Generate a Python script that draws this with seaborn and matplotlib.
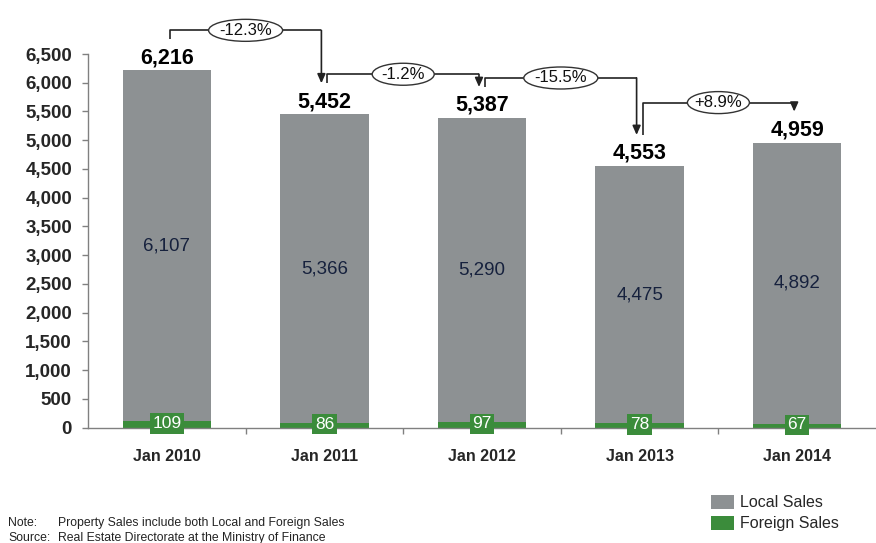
import numpy as np
import pandas as pd
import matplotlib
matplotlib.use("Agg")
import matplotlib.pyplot as plt
from matplotlib.patches import Ellipse, Patch
import seaborn as sns

# Property sales by year (units)
periods = ["Jan 2010", "Jan 2011", "Jan 2012", "Jan 2013", "Jan 2014"]
local_sales = [6107, 5366, 5290, 4475, 4892]
foreign_sales = [109, 86, 97, 78, 67]
y_ticks = list(range(0, 6501, 500))

total_sales = [l + f for l, f in zip(local_sales, foreign_sales)]
df = pd.DataFrame({"period": periods, "local": local_sales,
                   "foreign": foreign_sales, "total": total_sales})

sns.set_theme(style="white")
plt.rcParams["font.family"] = ["Liberation Sans", "DejaVu Sans"]

GRAY = "#8d9193"
GREEN = "#3b8c3b"
NAVY = "#16213d"
SPINE = "#808080"

W, H, DPI = 876, 543, 100
fig = plt.figure(figsize=(W / DPI, H / DPI), dpi=DPI)
ax_rect = [88 / W, 1 - 427.7 / H, 788 / W, 373.7 / H]
ax = fig.add_axes(ax_rect)

# Stacked look: full totals in gray, foreign share overlaid in green at the base
sns.barplot(data=df, x="period", y="total", color=GRAY, width=0.56,
            saturation=1, errorbar=None, ax=ax, zorder=2, linewidth=0)
sns.barplot(data=df, x="period", y="foreign", color=GREEN, width=0.56,
            saturation=1, errorbar=None, ax=ax, zorder=3, linewidth=0)

ax.set_xlim(-0.5, len(periods) - 0.5)
ax.set_ylim(0, 6500)
ax.set_xlabel("")
ax.set_ylabel("")

# Axes styling
for side in ["top", "right"]:
    ax.spines[side].set_visible(False)
for side in ["left", "bottom"]:
    ax.spines[side].set_color(SPINE)
    ax.spines[side].set_linewidth(1.0)
ax.spines["bottom"].set_zorder(4)

ax.set_yticks(y_ticks)
ax.set_yticklabels([f"{v:,}" for v in y_ticks], fontsize=13.5, fontweight="bold")
ax.tick_params(axis="y", direction="out", length=4.5, width=1, color=SPINE,
               pad=7, left=True)
ax.set_xticks(range(len(periods)))
ax.set_xticklabels(periods, fontsize=11.5, fontweight="bold")
ax.tick_params(axis="x", which="major", length=0, pad=15)
ax.set_xticks(np.arange(0.5, len(periods) - 1, 1.0), minor=True)
ax.tick_params(axis="x", which="minor", direction="out", length=4.5, width=1,
               color=SPINE, bottom=True)

# Pixel scale helpers for offsets above the bars
px_per_x = 788 / len(periods)
px_per_y = 373.7 / 6500
def dy(px):
    return px / px_per_y
def dx(px):
    return px / px_per_x

# Value labels
for i, (loc, frn, tot) in enumerate(zip(local_sales, foreign_sales, total_sales)):
    ax.annotate(f"{tot:,}", xy=(i, tot), xytext=(0, 1.5), textcoords="offset points",
                ha="center", va="bottom", fontsize=15.5, fontweight="bold",
                color="black", annotation_clip=False, zorder=6)
    ax.text(i, frn + loc / 2, f"{loc:,}", ha="center", va="center",
            fontsize=13.5, color=NAVY, zorder=6)
    ax.text(i, frn / 2 + dy(1), f"{frn}", ha="center", va="center",
            fontsize=12.5, color="white", zorder=7,
            bbox=dict(boxstyle="square,pad=0.15", fc=GREEN, ec="none"))

# Year-over-year change connectors
LINE = "#222222"
for i in range(len(periods) - 1):
    t0, t1 = total_sales[i], total_sales[i + 1]
    pct = (t1 / t0 - 1) * 100
    label = f"{pct:+.1f}%"
    x0 = i + dx(3)
    x1 = i + 1 - dx(3)
    y0 = t0 + dy(31)
    y1 = t1 + dy(31)
    lvl = max(t0, t1) + dy(40)
    ax.plot([x0, x0, x1], [y0, lvl, lvl], color=LINE, lw=1.2,
            clip_on=False, zorder=5, solid_capstyle="butt")
    ax.annotate("", xy=(x1, y1), xytext=(x1, lvl),
                arrowprops=dict(arrowstyle="-|>,head_length=0.45,head_width=0.2",
                                color=LINE, lw=1.2, shrinkA=0, shrinkB=0),
                annotation_clip=False, zorder=5)
    xm = (x0 + x1) / 2
    w_px = 12 * len(label) + 2
    ax.add_patch(Ellipse((xm, lvl), width=dx(w_px), height=dy(22),
                         facecolor="white", edgecolor="#333333", lw=1.0,
                         clip_on=False, zorder=6))
    ax.text(xm, lvl, label, ha="center", va="center", fontsize=12,
            color="#111111", zorder=7)

# Legend
handles = [Patch(facecolor=GRAY, edgecolor="none", label="Local Sales"),
           Patch(facecolor=GREEN, edgecolor="none", label="Foreign Sales")]
fig.legend(handles=handles, loc="upper left",
           bbox_to_anchor=(711 / W, 1 - 495 / H), frameon=False,
           fontsize=11.5, handlelength=1.45, handleheight=0.95,
           handletextpad=0.35, labelspacing=0.35, borderpad=0,
           borderaxespad=0)

# Footnotes
NOTE_FS = 8.8
fig.text(8 / W, 1 - 523 / H, "Note:", fontsize=NOTE_FS, va="center", color="#222222")
fig.text(58 / W, 1 - 523 / H, "Property Sales include both Local and Foreign Sales",
         fontsize=NOTE_FS, va="center", color="#222222")
fig.text(8 / W, 1 - 538 / H, "Source:", fontsize=NOTE_FS, va="center", color="#222222")
fig.text(58 / W, 1 - 538 / H, "Real Estate Directorate at the Ministry of Finance",
         fontsize=NOTE_FS, va="center", color="#222222")

fig.savefig("out.png", dpi=DPI)
